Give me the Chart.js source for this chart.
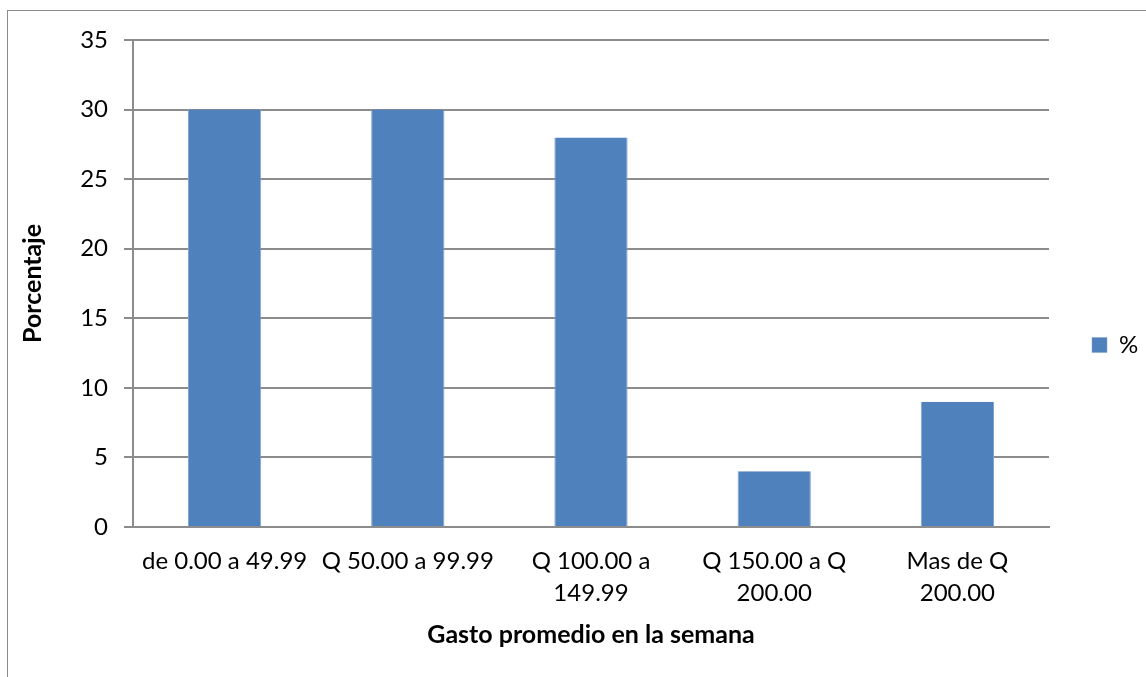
<!DOCTYPE html>
<html>
<head>
<meta charset="utf-8">
<script src="https://cdn.jsdelivr.net/npm/chart.js@4/dist/chart.umd.min.js"></script>
<style>
  html, body { margin: 0; padding: 0; background: #fff; overflow: hidden; }
  #wrap { position: relative; width: 1146px; height: 677px; }
  #frame { position: absolute; left: 7px; top: 10px; width: 1200px; height: 800px; border: 1.5px solid #8c8c8c; box-sizing: border-box; }
  canvas { position: absolute; left: 0; top: 0; }
</style>
</head>
<body>
<div id="wrap">
  <div id="frame"></div>
  <canvas id="chart" width="1146" height="677"></canvas>
</div>
<script>
// Gasto promedio semanal (porcentaje de encuestados)
const categorias = [
  'de 0.00 a 49.99',
  'Q 50.00 a 99.99',
  ['Q 100.00 a', '149.99'],
  ['Q 150.00 a Q', '200.00'],
  ['Mas de Q', '200.00']
];
const porcentajes = [30, 30, 28, 4, 9];
const serieNombre = '%';
const yMin = 0, yMax = 35, yPaso = 5;

const FUENTE = 'Lato, "Open Sans", sans-serif';
const GRIS = '#8c8c8c';

// leyenda a la derecha con ancho fijo, para dejar el área de trazado como la queremos
const anchoLeyenda = {
  id: 'anchoLeyenda',
  afterInit(chart) {
    const leyenda = chart.legend;
    if (!leyenda) return;
    const fitOriginal = leyenda.fit.bind(leyenda);
    leyenda.fit = function () {
      fitOriginal();
      this.width = 97;
    };
  }
};

new Chart(document.getElementById('chart'), {
  type: 'bar',
  data: {
    labels: categorias,
    datasets: [{
      label: serieNombre,
      data: porcentajes,
      backgroundColor: '#4F81BD',
      borderColor: '#7fa3d0',
      borderWidth: { left: 1, right: 1, top: 0, bottom: 0 },
      barPercentage: 0.4,
      categoryPercentage: 1
    }]
  },
  plugins: [anchoLeyenda],
  options: {
    responsive: false,
    animation: false,
    layout: { padding: { top: 40, left: 18, right: 0, bottom: 27 } },
    plugins: {
      tooltip: { enabled: false },
      legend: {
        position: 'right',
        labels: {
          boxWidth: 15, boxHeight: 15, padding: 43,
          color: '#000',
          font: { family: FUENTE, size: 24 }
        }
      }
    },
    scales: {
      x: {
        afterFit(scale) { scale.height = 123; },
        grid: { display: false, drawTicks: false },
        border: { display: true, color: GRIS, width: 2 },
        ticks: {
          color: '#000', padding: 19, maxRotation: 0, autoSkip: false,
          font: { family: FUENTE, size: 24, lineHeight: 1.3 }
        },
        title: {
          display: true, text: 'Gasto promedio en la semana', color: '#000',
          padding: { top: 10, bottom: 0 },
          font: { family: FUENTE, size: 25, weight: 'bold' }
        }
      },
      y: {
        min: yMin, max: yMax,
        afterFit(scale) { scale.width = 133 - 18; },
        ticks: {
          stepSize: yPaso, color: '#000', padding: 16,
          font: { family: FUENTE, size: 24 }
        },
        grid: { color: GRIS, lineWidth: 2, tickLength: 9 },
        border: { color: GRIS, width: 2 },
        title: {
          display: true, text: 'Porcentaje', color: '#000',
          padding: { top: 0, bottom: 10 },
          font: { family: FUENTE, size: 25, weight: 'bold' }
        }
      }
    }
  }
});
</script>
</body>
</html>
